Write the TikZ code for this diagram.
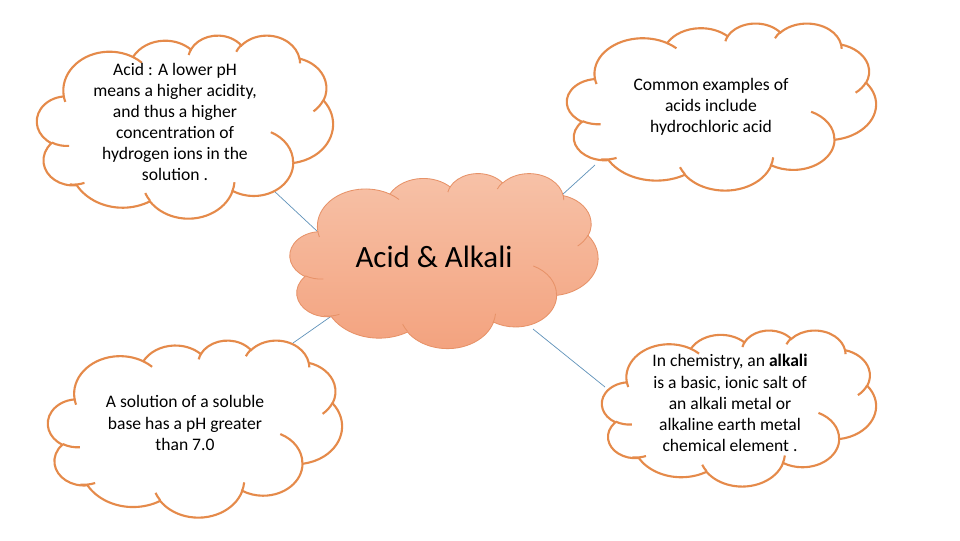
\documentclass[tikz,border=0pt]{standalone}
\usepackage{fontspec}
\setmainfont{Carlito}
\definecolor{cloudline}{RGB}{229,138,74}
\definecolor{cenline}{RGB}{231,146,104}
\definecolor{centop}{RGB}{247,194,168}
\definecolor{cenbot}{RGB}{243,162,126}
\definecolor{conn}{RGB}{96,146,186}
\makeatletter
\newcommand\cldpar[5]{%
  \pgfmathsetmacro\cld@a{atan2((#2)*sin(#4),(#3)*cos(#4))}%
  \pgfmathsetmacro\cld@b{atan2((#2)*sin(#4+#5),(#3)*cos(#4+#5))}%
  \pgfmathsetmacro\cld@b{\cld@b<\cld@a ? \cld@b+360 : \cld@b}%
  \expandafter\let\csname cld@#1s\endcsname\cld@a
  \expandafter\let\csname cld@#1e\endcsname\cld@b}
\makeatother
\cldpar{o1}{6.753}{9.19}{-190.487483}{123.780533}
\cldpar{o2}{5.333}{7.267}{-144.102383}{89.945233}
\cldpar{o3}{4.365}{5.945}{-145.807917}{99.723017}
\cldpar{o4}{4.857}{6.595}{-130.986067}{117.241733}
\cldpar{o5}{5.333}{7.273}{-78.708883}{109.026917}
\cldpar{o6}{6.775}{9.22}{-46.26725}{130.269}
\cldpar{o7}{5.785}{7.867}{0.625017}{114.033333}
\cldpar{o8}{6.752}{9.215}{22.4516}{115.17255}
\cldpar{o9}{7.72}{10.543}{66.242633}{75.711017}
\cldpar{o10}{4.36}{5.918}{-274.942083}{146.735567}
\cldpar{o11}{4.345}{5.945}{-246.8285}{152.51885}
\cldpar{ia}{4.345}{5.945}{86.742}{26.4295}
\cldpar{ib}{4.36}{5.918}{73.6038}{21.5424}
\cldpar{ic}{6.752}{9.215}{137.6242}{14.4001}
\cldpar{id}{6.752}{9.215}{6.4533}{18.8384}
\cldpar{ie}{5.785}{7.867}{-70.2924}{70.7811}
\cldpar{if}{5.333}{7.273}{30.318}{27.7515}
\cldpar{ig}{4.857}{6.595}{-13.7443}{14.8589}
\cldpar{ih}{4.857}{6.595}{-149.1815}{18.1954}
\cldpar{ii}{4.365}{5.945}{-163.4943}{17.6864}
\cldpar{ij}{6.753}{9.19}{-66.707}{12.3194}
\cldpar{ik}{6.753}{9.19}{157.6544}{11.8582}
\newcommand\cldarc[3]{arc[start angle=\csname cld@#1s\endcsname, end angle=\csname cld@#1e\endcsname, x radius=#2cm, y radius=#3cm]}
\newcommand\cloudshape{(3.9,14.37) \cldarc{o1}{6.753}{9.19} \cldarc{o2}{5.333}{7.267} \cldarc{o3}{4.365}{5.945} \cldarc{o4}{4.857}{6.595} \cldarc{o5}{5.333}{7.273} \cldarc{o6}{6.775}{9.22} \cldarc{o7}{5.785}{7.867} \cldarc{o8}{6.752}{9.215} \cldarc{o9}{7.72}{10.543} \cldarc{o10}{4.36}{5.918} \cldarc{o11}{4.345}{5.945} -- cycle}
\newcommand\cloudinner{(4.693,26.177) \cldarc{ia}{4.345}{5.945} (6.928,34.899) \cldarc{ib}{4.36}{5.918} (16.478,39.09) \cldarc{ic}{6.752}{9.215} (28.827,34.751) \cldarc{id}{6.752}{9.215} (34.129,22.954) \cldarc{ie}{5.785}{7.867} (41.798,15.354) \cldarc{if}{5.333}{7.273} (38.324,5.426) \cldarc{ig}{4.857}{6.595} (29.078,3.952) \cldarc{ih}{4.857}{6.595} (22.141,4.72) \cldarc{ii}{4.365}{5.945} (14.0,5.192) \cldarc{ij}{6.753}{9.19} (4.127,15.789) \cldarc{ik}{6.753}{9.19}}
\newcommand\drawcloud[6]{%
  \begin{scope}[shift={(#1,#2)},x=1cm,y=1cm,xscale={#3*0.025/43.2},yscale={-#4*0.025/43.2}]
    \path[#5] \cloudshape;
    \path[#6] \cloudinner;
  \end{scope}}
\begin{document}
\begin{tikzpicture}[x=0.025cm,y=-0.025cm,
  whitecloud/.style={draw=cloudline,line width=1.5pt,fill=white},
  whiteinner/.style={draw=cloudline,line width=1.5pt},
  centercloud/.style={draw=cenline,line width=0.6pt,top color=centop,bottom color=cenbot},
  centerinner/.style={draw=cenline,line width=0.6pt},
  note/.style={align=center,font=\fontsize{12.5}{15}\selectfont,inner sep=0pt},
  title/.style={font=\fontsize{22}{26}\selectfont,inner sep=0pt,anchor=base},
  link/.style={draw=conn,line width=0.5pt}]
\fill[white] (0,0) rectangle (960,540);
\useasboundingbox (0,0) rectangle (960,540);
% connector end points
\coordinate (tlA) at (273,190); \coordinate (cTL) at (318,232);
\coordinate (trA) at (595,165); \coordinate (cTR) at (562,195);
\coordinate (blA) at (293,343); \coordinate (cBL) at (333,315);
\coordinate (brA) at (605,387); \coordinate (cBR) at (533,329);
\draw[link] (tlA) -- (cTL);
\draw[link] (trA) -- (cTR);
\draw[link] (blA) -- (cBL);
\draw[link] (brA) -- (cBR);
% clouds
\drawcloud{37}{35}{296}{183}{whitecloud}{whiteinner}
\drawcloud{567}{23}{309}{167}{whitecloud}{whiteinner}
\drawcloud{48}{340}{294}{177}{whitecloud}{whiteinner}
\drawcloud{602}{330}{274}{156}{whitecloud}{whiteinner}
\drawcloud{290}{173}{308}{175}{centercloud}{centerinner}
% texts
\node[title] (core) at (434,267) {Acid \& Alkali};
\node[note] (tl) at (175,122) {Acid : A lower pH\\means a higher acidity,\\and thus a higher\\concentration of\\hydrogen ions in the\\solution .};
\node[note] (tr) at (711,107) {Common examples of\\acids include\\hydrochloric acid};
\node[note] (bl) at (185,423) {A solution of a soluble\\base has a pH greater\\than 7.0};
\node[note] (br) at (730,403) {In chemistry, an \textbf{alkali}\\is a basic, ionic salt of\\an alkali metal or\\alkaline earth metal\\chemical element .};
\end{tikzpicture}
\end{document}
